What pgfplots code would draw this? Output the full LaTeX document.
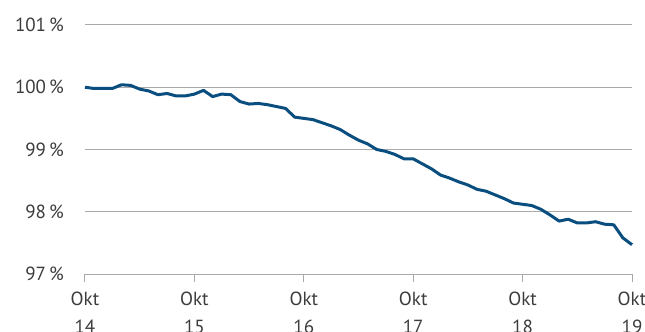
\documentclass[border=0pt]{standalone}
\usepackage{pgfplots}
\pgfplotsset{compat=1.18}
\usepackage{fontspec}
\setmainfont{PT Sans}

\definecolor{linieblau}{RGB}{10,78,128}
\definecolor{textgrau}{RGB}{60,60,60}
\definecolor{gittergrau}{RGB}{170,170,170}

% monthly index, Oct 2014 = 100 %
\pgfplotstableread{
m   v
0   100.00
1   99.98
2   99.98
3   99.98
4   100.04
5   100.03
6   99.97
7   99.94
8   99.88
9   99.90
10  99.86
11  99.86
12  99.89
13  99.95
14  99.85
15  99.89
16  99.88
17  99.77
18  99.73
19  99.74
20  99.72
21  99.69
22  99.66
23  99.52
24  99.50
25  99.48
26  99.43
27  99.38
28  99.32
29  99.23
30  99.15
31  99.09
32  99.00
33  98.97
34  98.92
35  98.85
36  98.85
37  98.77
38  98.69
39  98.59
40  98.54
41  98.48
42  98.43
43  98.36
44  98.33
45  98.27
46  98.21
47  98.14
48  98.12
49  98.10
50  98.04
51  97.95
52  97.85
53  97.88
54  97.82
55  97.82
56  97.84
57  97.80
58  97.79
59  97.58
60  97.47
}\indexdata

\begin{document}
\begin{tikzpicture}
\begin{axis}[
  name=ax,
  scale only axis,
  width=273.5pt, height=124.5pt,
  xmin=0, xmax=60, ymin=97, ymax=101,
  axis x line*=bottom, axis y line*=left,
  x axis line style={gittergrau, line width=0.5pt, -},
  y axis line style={draw=none},
  xtick={0,12,...,60},
  xticklabels={Okt\\14,Okt\\15,Okt\\16,Okt\\17,Okt\\18,Okt\\19},
  xticklabel style={align=center, font=\fontsize{9.5}{14}\selectfont, text=textgrau, yshift=-1.5pt},
  xtick style={gittergrau, line width=0.5pt},
  tick align=outside,
  major tick length=4pt,
  ytick={97,98,99,100,101},
  yticklabels={97\,\%,98\,\%,99\,\%,100\,\%,101\,\%},
  yticklabel style={font=\fontsize{9.5}{12}\selectfont, text=textgrau, xshift=-3pt},
  ytick style={draw=none},
  ymajorgrids,
  grid style={gittergrau, line width=0.5pt},
  clip=false,
]
\addplot[linieblau, line width=1.5pt, line join=round] table[x=m, y=v] {\indexdata};
\end{axis}
\pgfresetboundingbox
\path[use as bounding box] ([xshift=-42.5pt,yshift=-28.5pt]ax.south west) rectangle ([xshift=6.5pt,yshift=12.5pt]ax.north east);
\end{tikzpicture}
\end{document}
